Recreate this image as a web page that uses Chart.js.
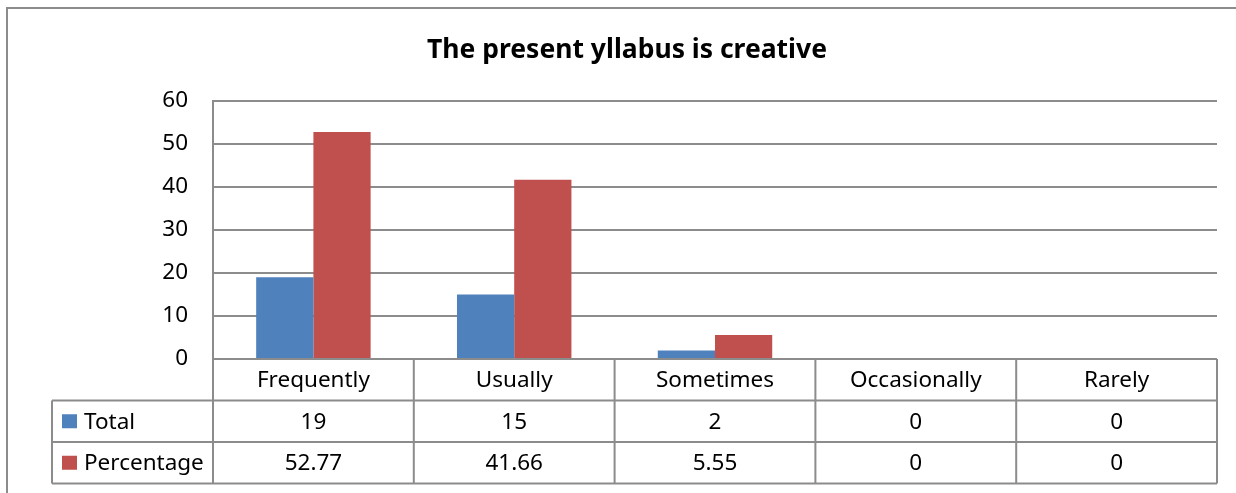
<!DOCTYPE html>
<html>
<head>
<meta charset="utf-8">
<script src="https://cdn.jsdelivr.net/npm/chart.js@4"></script>
<style>
  html, body { margin: 0; padding: 0; background: #fff; }
  #wrap { width: 1236px; height: 493px; position: relative; }
</style>
</head>
<body>
<div id="wrap"><canvas id="chart" width="1236" height="493"></canvas></div>
<script>
const categories = ['Frequently', 'Usually', 'Sometimes', 'Occasionally', 'Rarely'];
const totals = [19, 15, 2, 0, 0];
const percentages = [52.77, 41.66, 5.55, 0, 0];
const totalLabels = ['19', '15', '2', '0', '0'];
const percentageLabels = ['52.77', '41.66', '5.55', '0', '0'];

const FONT = "'Noto Sans', sans-serif";
const LINE = '#8c8c8c';
const TEXT_SIZE = 22.5;

// draws the outer frame and the data table under the plot
const dataTable = {
  id: 'dataTable',
  afterLayout(chart) {
    // title sits a little right of the plot centre in the original
    chart.titleBlock.left += 30;
  },
  afterDraw(chart) {
    const ctx = chart.ctx;
    const x = chart.scales.x;
    const area = chart.chartArea;
    const colW = x.width / categories.length;
    const rowH = 41.5;
    const left = 52;
    const rows = [area.bottom, area.bottom + rowH, area.bottom + rowH * 2, area.bottom + rowH * 3];

    ctx.save();
    ctx.strokeStyle = LINE;
    ctx.lineWidth = 2;
    // outer frame
    ctx.beginPath();
    ctx.moveTo(7, 493);
    ctx.lineTo(7, 8);
    ctx.lineTo(1236, 8);
    ctx.stroke();

    // horizontal lines
    ctx.beginPath();
    ctx.moveTo(area.left, rows[0]);
    ctx.lineTo(area.right, rows[0]);
    for (let i = 1; i < rows.length; i++) {
      ctx.moveTo(left, rows[i]);
      ctx.lineTo(area.right, rows[i]);
    }
    // vertical lines
    ctx.moveTo(left, rows[1]);
    ctx.lineTo(left, rows[3]);
    for (let i = 0; i <= categories.length; i++) {
      const px = area.left + colW * i;
      ctx.moveTo(px, rows[0]);
      ctx.lineTo(px, rows[3]);
    }
    ctx.stroke();

    ctx.fillStyle = '#000';
    ctx.font = TEXT_SIZE + 'px ' + FONT;
    ctx.textAlign = 'center';
    ctx.textBaseline = 'middle';
    categories.forEach((c, i) => {
      const cx = x.getPixelForValue(i);
      ctx.fillText(c, cx, rows[0] + rowH / 2 + 1);
      ctx.fillText(totalLabels[i], cx, rows[1] + rowH / 2 + 1);
      ctx.fillText(percentageLabels[i], cx, rows[2] + rowH / 2 + 1);
    });

    // legend keys in the table
    chart.data.datasets.forEach((ds, i) => {
      const cy = rows[i + 1] + rowH / 2;
      ctx.fillStyle = ds.backgroundColor;
      ctx.fillRect(62, cy - 7, 15, 14);
      ctx.fillStyle = '#000';
      ctx.textAlign = 'left';
      ctx.fillText(ds.label, 84, cy + 1);
    });
    ctx.restore();
  }
};

new Chart(document.getElementById('chart'), {
  type: 'bar',
  data: {
    labels: categories,
    datasets: [
      { label: 'Total', data: totals, backgroundColor: '#4F81BD' },
      { label: 'Percentage', data: percentages, backgroundColor: '#C0504D' }
    ]
  },
  options: {
    responsive: false,
    animation: false,
    layout: { padding: { left: 7, top: 8, right: 19, bottom: 134 } },
    datasets: { bar: { categoryPercentage: 0.57, barPercentage: 1.0 } },
    plugins: {
      legend: { display: false },
      tooltip: { enabled: false },
      title: {
        display: true,
        text: 'The present yllabus is creative',
        color: '#000',
        font: { family: FONT, size: 26.5, weight: 'bold' },
        padding: { top: 27, bottom: 34 }
      }
    },
    scales: {
      x: { display: false },
      y: {
        min: 0,
        max: 60,
        ticks: { stepSize: 10, color: '#000', padding: 25, font: { family: FONT, size: TEXT_SIZE } },
        grid: { color: LINE, lineWidth: 2, drawTicks: false },
        border: { color: LINE, width: 2 },
        afterFit(scale) { scale.width = 206; }
      }
    }
  },
  plugins: [dataTable]
});
</script>
</body>
</html>
